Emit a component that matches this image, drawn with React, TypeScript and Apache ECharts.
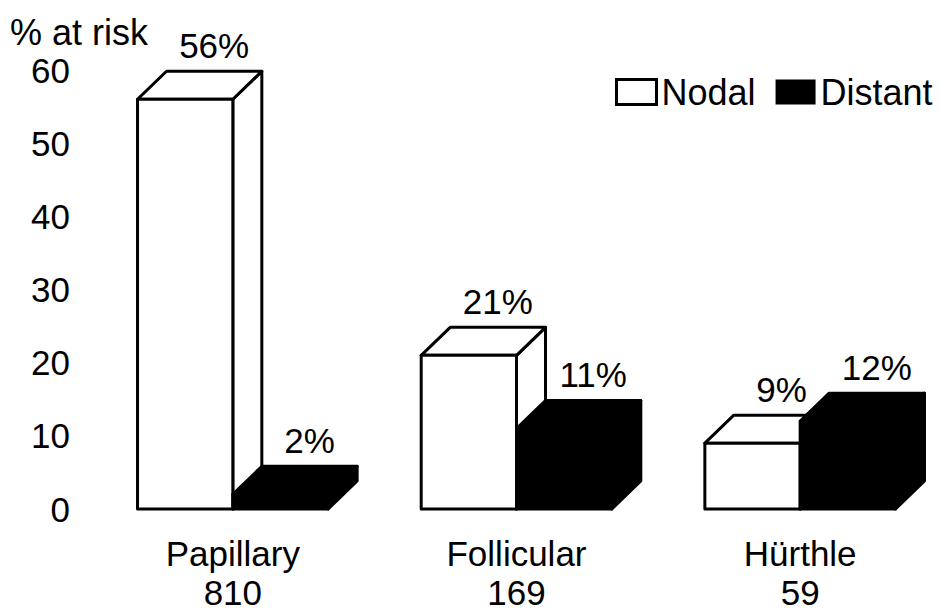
import React, { useEffect, useRef } from "react";
import * as echarts from "echarts";

const categories = ["Papillary", "Follicular", "Hürthle"];
const patientCounts = [810, 169, 59];
const nodalRisk = [56, 21, 9];
const distantRisk = [2, 11, 12];
const seriesNames = ["Nodal", "Distant"];
const yAxisTitle = "% at risk";

const FONT = "Liberation Sans, Arial, Helvetica, sans-serif";
const DX = 29;
const DY = 28;

function makeRenderItem(side: "left" | "right", fill: string) {
  return (params: any, api: any) => {
    const idx = api.value(0);
    const val = api.value(1);
    const base = api.coord([idx, 0]);
    const top = api.coord([idx, val]);
    const band = api.size([1, 0])[0];
    const w = band * 0.336;
    const x0 = side === "left" ? base[0] - w : base[0];
    const x1 = x0 + w;
    const yB = base[1];
    const yT = top[1];
    const st = { fill, stroke: "#000", lineWidth: 3, lineJoin: "round" };
    return {
      type: "group",
      children: [
        {
          type: "polygon",
          shape: { points: [[x1, yT], [x1 + DX, yT - DY], [x1 + DX, yB - DY], [x1, yB]] },
          style: st,
        },
        {
          type: "polygon",
          shape: { points: [[x0, yT], [x1, yT], [x1 + DX, yT - DY], [x0 + DX, yT - DY]] },
          style: st,
        },
        {
          type: "rect",
          shape: { x: x0, y: yT, width: w, height: yB - yT },
          style: st,
        },
        {
          type: "text",
          style: {
            text: val + "%",
            x: x0 + DX + w / 2,
            y: yT - DY - 26,
            align: "center",
            verticalAlign: "middle",
            fontSize: 35,
            fontFamily: FONT,
            fill: "#000",
          },
        },
      ],
    };
  };
}

export default function App() {
  const ref = useRef<HTMLDivElement>(null);
  useEffect(() => {
    if (!ref.current) return;
    const chart = echarts.init(ref.current, undefined, { renderer: "svg" });
    chart.setOption({
      animation: false,
      backgroundColor: "#fff",
      grid: { left: 91, top: 70, width: 851, height: 439, outerBoundsMode: "none", containLabel: false },
      legend: {
        orient: "horizontal",
        left: 610,
        top: 69,
        width: 360,
        icon: "rect",
        itemWidth: 40,
        itemHeight: 25,
        itemGap: 20,
        textStyle: { fontSize: 36, fontFamily: FONT, color: "#000" },
        data: [
          { name: seriesNames[0], itemStyle: { color: "#fff", borderColor: "#000", borderWidth: 3 } },
          { name: seriesNames[1], itemStyle: { color: "#000", borderColor: "#000", borderWidth: 0 } },
        ],
      },
      graphic: [
        {
          type: "text",
          left: 10,
          top: 14,
          style: { text: yAxisTitle, fontSize: 36, fontFamily: FONT, fill: "#000" },
        },
      ],
      xAxis: {
        type: "category",
        data: categories,
        axisLine: { show: false },
        axisTick: { show: false },
        splitLine: { show: false },
        axisLabel: {
          margin: 22,
          fontFamily: FONT,
          color: "#000",
          formatter: (v: string) => "{a|" + v + "}\n{b|" + patientCounts[categories.indexOf(v)] + "}",
          rich: {
            a: { fontSize: 35, lineHeight: 44, fontFamily: FONT, color: "#000" },
            b: { fontSize: 35, lineHeight: 34, fontFamily: FONT, color: "#000" },
          },
        },
      },
      yAxis: {
        type: "value",
        min: 0,
        max: 60,
        interval: 10,
        axisLine: { show: false },
        axisTick: { show: false },
        splitLine: { show: false },
        axisLabel: { margin: 21, fontSize: 35, fontFamily: FONT, color: "#000" },
      },
      series: [
        {
          name: seriesNames[0],
          type: "custom",
          renderItem: makeRenderItem("left", "#fff"),
          itemStyle: { color: "#fff", borderColor: "#000", borderWidth: 3 },
          encode: { x: 0, y: 1 },
          data: nodalRisk.map((v, i) => [i, v]),
          z: 2,
        },
        {
          name: seriesNames[1],
          type: "custom",
          renderItem: makeRenderItem("right", "#000"),
          itemStyle: { color: "#000" },
          encode: { x: 0, y: 1 },
          data: distantRisk.map((v, i) => [i, v]),
          z: 3,
        },
      ],
    });
    return () => chart.dispose();
  }, []);
  return (
    <div
      ref={ref}
      style={{ position: "fixed", left: 0, top: 0, width: 940, height: 610, background: "#fff" }}
    />
  );
}
